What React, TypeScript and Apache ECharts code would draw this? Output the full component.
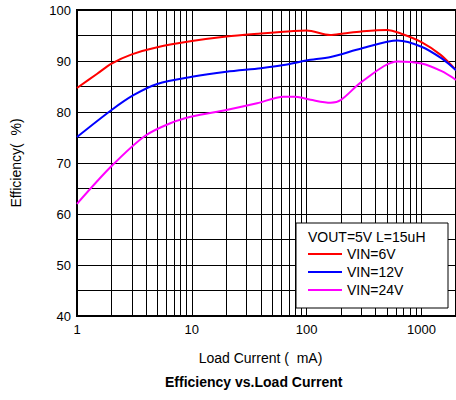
import React, { useEffect, useRef } from "react";
import * as echarts from "echarts";

const vin6: [number, number][] = [
  [1, 84.7], [1.5, 87.5], [2, 89.5], [3, 91.3], [5, 92.7], [10, 93.9], [20, 94.8],
  [40, 95.4], [77, 95.9], [100, 96.0], [160, 95.1], [210, 95.4], [300, 95.8],
  [500, 96.1], [660, 95.4], [1000, 93.7], [1470, 91.2], [2000, 88.2],
];
const vin12: [number, number][] = [
  [1, 75.1], [2, 80.4], [3.1, 83.3], [5, 85.5], [10, 86.9], [20, 87.9], [40, 88.6],
  [63, 89.2], [100, 90.1], [162, 90.8], [305, 92.5], [620, 94.0], [1000, 92.8],
  [1500, 90.5], [2000, 88.2],
];
const vin24: [number, number][] = [
  [1, 62.0], [2, 69.4], [3.9, 75.3], [6.5, 77.8], [10, 79.1], [20, 80.4], [37, 81.7],
  [63, 83.0], [80, 83.0], [108, 82.4], [162, 81.8], [200, 82.4], [305, 86.0],
  [620, 89.9], [1000, 89.5], [1500, 88.0], [2000, 86.3],
];
const minorX: number[] = [
  2, 3, 4, 5, 6, 7, 8, 9, 20, 30, 40, 50, 60, 70, 80, 90, 200, 300, 400, 500, 600, 700, 800, 900,
];
const seriesNames = ["VIN=6V", "VIN=12V", "VIN=24V"];
const seriesColors = ["#ff0000", "#0000ff", "#ff00ff"];
const legendTitle = "VOUT=5V L=15uH";

const FONT = "Liberation Sans, Arial, sans-serif";

export default function App() {
  const ref = useRef<HTMLDivElement>(null);
  useEffect(() => {
    if (!ref.current) return;
    const chart = echarts.init(ref.current, undefined, { renderer: "svg" });
    const datas = [vin6, vin12, vin24];
    chart.setOption({
      animation: false,
      textStyle: { fontFamily: FONT },
      title: {
        text: "Efficiency vs.Load Current",
        left: 165,
        top: 375,
        padding: 0,
        textStyle: { fontFamily: FONT, fontSize: 14, fontWeight: "bold", color: "#000" },
      },
      grid: {
        left: 77,
        right: 0,
        top: 10,
        bottom: 84,
        show: true,
        borderColor: "#000",
        borderWidth: 2,
        backgroundColor: "#fff",
      },
      legend: {
        orient: "vertical",
        left: 308,
        top: 247,
        padding: 0,
        icon: "rect",
        itemWidth: 34,
        itemHeight: 2,
        itemGap: 4,
        data: seriesNames,
        textStyle: { fontFamily: FONT, fontSize: 14, color: "#000" },
        z: 120,
      },
      xAxis: {
        type: "log",
        logBase: 10,
        min: 1,
        max: 2000,
        name: "Load Current (  mA)",
        nameLocation: "middle",
        nameGap: 35,
        nameTextStyle: { fontFamily: FONT, fontSize: 14, color: "#000", padding: [0, 12, 0, 0] },
        axisLine: { show: false },
        axisTick: { show: false },
        axisLabel: {
          fontFamily: FONT,
          fontSize: 13,
          color: "#000",
          margin: 7,
          showMaxLabel: false,
          formatter: (v: number) => {
            const l = Math.log10(v);
            return Math.abs(l - Math.round(l)) < 1e-6 ? String(Math.round(v)) : "";
          },
        },
        splitLine: { show: true, lineStyle: { color: "#000", width: 1 } },
      },
      yAxis: {
        type: "value",
        min: 40,
        max: 100,
        interval: 5,
        name: "Efficiency(  %)",
        nameLocation: "middle",
        nameGap: 54,
        nameTextStyle: { fontFamily: FONT, fontSize: 14, color: "#000" },
        axisLine: { show: false },
        axisTick: { show: false },
        axisLabel: {
          fontFamily: FONT,
          fontSize: 13,
          color: "#000",
          margin: 6,
          formatter: (v: number) => (v % 10 === 0 ? String(v) : ""),
        },
        splitLine: { show: true, lineStyle: { color: "#000", width: 1 } },
      },
      series: [
        {
          type: "line",
          name: "grid",
          data: [[1, 40]],
          symbol: "none",
          lineStyle: { opacity: 0 },
          silent: true,
          z: 1,
          markLine: {
            silent: true,
            symbol: ["none", "none"],
            label: { show: false },
            lineStyle: { color: "#000", width: 1, type: "solid" },
            data: minorX.map((x) => ({ xAxis: x })),
            animation: false,
          },
        },
        ...datas.map((d, i) => ({
          type: "line",
          name: seriesNames[i],
          data: d,
          smooth: 0.3,
          symbol: "none",
          z: 5,
          lineStyle: { color: seriesColors[i], width: 2 },
          itemStyle: { color: seriesColors[i] },
        })),
      ],
      graphic: [
        {
          type: "rect",
          z: 100,
          shape: { x: 296, y: 223, width: 152, height: 85 },
          style: { fill: "#fff", stroke: "#000", lineWidth: 1 },
        },
        {
          type: "text",
          z: 110,
          x: 308,
          y: 237,
          style: {
            text: legendTitle,
            fontFamily: FONT,
            fontSize: 14,
            fill: "#000",
            verticalAlign: "middle",
          },
        },
      ],
    });
    return () => chart.dispose();
  }, []);
  return <div ref={ref} style={{ width: 456, height: 400, position: "absolute", left: 0, top: 0 }} />;
}
